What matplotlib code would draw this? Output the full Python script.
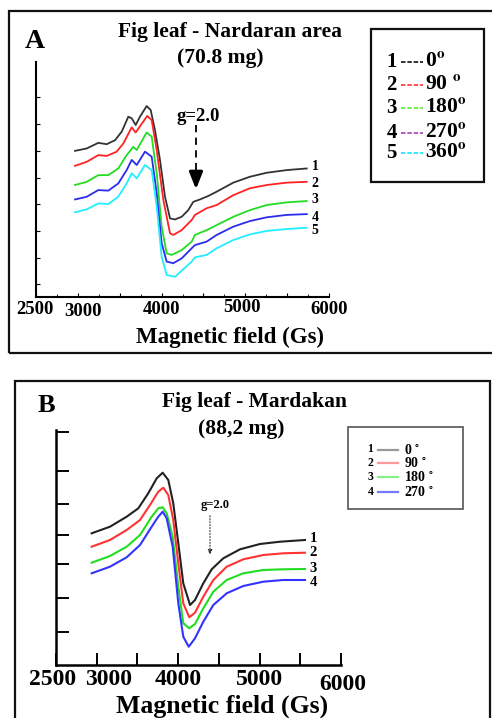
import matplotlib
matplotlib.use("Agg")
from matplotlib import pyplot as plt
from matplotlib.patches import Rectangle
from matplotlib.lines import Line2D
from matplotlib.transforms import ScaledTranslation

plt.rcParams['font.family'] = ['Liberation Serif', 'DejaVu Serif']
plt.rcParams['font.weight'] = 'bold'
plt.rcParams['mathtext.fontset'] = 'stix'

W, H = 492, 718

# ---------------- panel A : Fig leaf - Nardaran area ----------------
A_x1 = [2966, 3106, 3244, 3345, 3444, 3524, 3603, 3643, 3691, 3742, 3822, 3870, 3921, 3981,
        4041, 4101, 4160, 4240, 4319, 4379, 4459, 4558, 4658, 4857, 5056, 5256, 5495, 5734]
A_y1 = [5.00, 5.09, 5.30, 5.25, 5.40, 5.72, 6.28, 6.22, 5.97, 6.28, 6.68, 6.53, 5.78, 4.66,
        3.28, 2.47, 2.43, 2.53, 2.78, 3.09, 3.18, 3.31, 3.47, 3.81, 4.03, 4.18, 4.28, 4.34]
A_x2 = [2966, 3106, 3244, 3345, 3464, 3544, 3643, 3691, 3829, 3882, 3942, 4021, 4101, 4140,
        4240, 4360, 4399, 4539, 4658, 4857, 5056, 5256, 5495, 5734]
A_y2 = [4.44, 4.59, 4.84, 4.81, 4.97, 5.28, 5.88, 5.69, 6.31, 6.15, 5.03, 3.16, 1.91, 1.85,
        2.03, 2.41, 2.60, 2.85, 2.97, 3.34, 3.60, 3.72, 3.81, 3.84]
A_x3 = [2966, 3106, 3244, 3364, 3483, 3583, 3662, 3703, 3822, 3882, 3942, 4001, 4061, 4120,
        4240, 4360, 4399, 4539, 4658, 4857, 5056, 5256, 5495, 5734]
A_y3 = [3.72, 3.84, 4.09, 4.09, 4.34, 4.84, 5.15, 5.03, 5.69, 5.53, 4.16, 2.16, 1.16, 1.10,
        1.28, 1.60, 1.85, 2.03, 2.22, 2.53, 2.78, 2.97, 3.07, 3.12]
A_x4 = [2966, 3106, 3244, 3364, 3483, 3583, 3643, 3703, 3802, 3882, 3942, 4001, 4061, 4140,
        4240, 4360, 4399, 4539, 4658, 4857, 5056, 5256, 5495, 5734]
A_y4 = [3.18, 3.28, 3.53, 3.51, 3.78, 4.28, 4.66, 4.47, 4.97, 4.78, 3.41, 1.54, 0.85, 0.79,
        0.97, 1.35, 1.47, 1.60, 1.85, 2.16, 2.37, 2.51, 2.60, 2.63]
A_x5 = [2966, 3106, 3244, 3364, 3483, 3583, 3643, 3703, 3802, 3882, 3942, 4001, 4061, 4160,
        4240, 4360, 4399, 4539, 4658, 4857, 5056, 5256, 5495, 5734]
A_y5 = [2.70, 2.81, 3.03, 3.01, 3.28, 3.78, 4.16, 3.97, 4.47, 4.28, 2.91, 1.03, 0.35, 0.28,
        0.51, 0.85, 1.01, 1.10, 1.35, 1.66, 1.87, 2.00, 2.07, 2.12]
A_colors = ['#333333', '#ff2222', '#22dd22', '#2b2bee', '#22eeff']
A_nums = ['1', '2', '3', '4', '5']
A_labels = ['0', '90 ', '180', '270', '360']
A_leg_colors = ['#222222', '#ff4444', '#66ee44', '#b050c0', '#22e8ff']
A_num_y = [4.43, 3.79, 3.19, 2.52, 2.03]

# ---------------- panel B : Fig leaf - Mardakan ----------------
B_x1 = [2938, 3163, 3368, 3511, 3633, 3737, 3810, 3879, 3940, 4002, 4063, 4146, 4207, 4309,
        4412, 4554, 4760, 5005, 5251, 5558]
B_y1 = [13.17, 13.83, 14.83, 15.67, 17.17, 18.67, 19.23, 18.5, 16.17, 12.17, 8.17, 6.0, 6.5,
        8.17, 9.57, 10.67, 11.57, 12.1, 12.33, 12.5]
B_x2 = [2938, 3163, 3368, 3532, 3654, 3756, 3818, 3879, 3940, 4002, 4063, 4137, 4207, 4309,
        4432, 4596, 4800, 5046, 5291, 5558]
B_y2 = [11.83, 12.5, 13.5, 14.5, 16.0, 17.33, 17.73, 17.0, 14.5, 10.17, 6.17, 4.77, 5.23,
        6.83, 8.5, 9.83, 10.57, 11.0, 11.17, 11.23]
B_x3 = [2938, 3163, 3368, 3532, 3675, 3756, 3810, 3859, 3933, 4002, 4063, 4137, 4207, 4309,
        4432, 4596, 4800, 5046, 5291, 5558]
B_y3 = [10.23, 10.9, 11.83, 13.0, 14.83, 15.67, 15.77, 15.17, 12.83, 7.83, 4.17, 3.67, 4.1,
        5.67, 7.33, 8.5, 9.17, 9.5, 9.57, 9.6]
B_x4 = [2938, 3163, 3368, 3532, 3675, 3756, 3810, 3859, 3933, 4002, 4063, 4130, 4207, 4309,
        4432, 4596, 4800, 5046, 5291, 5558]
B_y4 = [9.17, 9.83, 10.77, 12.0, 13.83, 14.83, 15.33, 14.67, 11.83, 6.17, 2.83, 1.83, 2.67,
        4.33, 6.0, 7.17, 7.9, 8.33, 8.5, 8.5]
B_colors = ['#222222', '#ff3333', '#22dd22', '#3333ff']
B_nums = ['1', '2', '3', '4']
B_labels = ['0', '90', '180', '270']
B_leg_colors = ['#999999', '#ff9999', '#88ee88', '#7777ff']
B_num_y = [12.7, 11.3, 9.7, 8.2]
B_yticks = [3.3, 6.7, 10.1, 13.0, 16.1, 19.4, 23.3]

xticks = [2500, 3000, 3500, 4000, 4500, 5000, 5500, 6000]
xticklabels = ['2500', '3000', '', '4000', '', '5000', '', '6000']


def fx(px):
    return px / W


def fy(py):
    return 1 - py / H


def nudge(label, dx, dy):
    # shift a tick label by (dx, dy) pixels
    label.set_transform(label.get_transform() + ScaledTranslation(dx / 100, -dy / 100, fig.dpi_scale_trans))


fig = plt.figure(figsize=(W / 100, H / 100), dpi=100)

# panel frames
fig.add_artist(Rectangle((fx(9), fy(353)), fx(500) - fx(9), fy(11) - fy(353),
                         transform=fig.transFigure, fill=False, lw=1.6, ec='#111111'))
fig.add_artist(Rectangle((fx(15), fy(730)), fx(490) - fx(15), fy(381) - fy(730),
                         transform=fig.transFigure, fill=False, lw=1.6, ec='#111111'))

# ---------- A ----------
axA = fig.add_axes([fx(36), fy(297), fx(329) - fx(36), fy(62) - fy(297)])
for xs, ys, c in zip([A_x1, A_x2, A_x3, A_x4, A_x5], [A_y1, A_y2, A_y3, A_y4, A_y5], A_colors):
    axA.plot(xs, ys, color=c, lw=1.3)
axA.set_xlim(2500, 6000)
axA.set_ylim(-0.476, 8.33)
for s in ['top', 'right']:
    axA.spines[s].set_visible(False)
for s in ['left', 'bottom']:
    axA.spines[s].set_linewidth(1.5)
axA.set_xticks(xticks)
axA.set_xticklabels(xticklabels, fontsize=13.5, fontweight='bold')
axA.set_xticks([2750, 3250, 3750, 4250, 4750, 5250, 5750], minor=True)
axA.set_yticks(range(8))
axA.set_yticklabels([])
axA.tick_params(direction='in', length=3, width=0.8, pad=3)
axA.tick_params(which='minor', direction='in', length=2, width=0.6)
labs = axA.get_xticklabels()
nudge(labs[0], -1, 0)
nudge(labs[1], 5, 2)
nudge(labs[5], -3, -2)
for n, yv in zip(A_nums, A_num_y):
    axA.text(5833, yv, n, fontsize=10, ha='center', va='center', fontweight='bold')
axA.text(4440, 6.28, 'g=2.0', fontsize=13.5, ha='center', va='center', fontweight='bold')
axA.plot([4411, 4411], [5.97, 4.3], color='k', lw=1.3, ls=(0, (4, 3)))
axA.annotate('', xy=(4411, 3.46), xytext=(4411, 4.35),
             arrowprops=dict(arrowstyle='-|>,head_width=0.4,head_length=1.0', color='k', lw=2.2))

fig.text(fx(230), fy(32), 'Fig leaf - Nardaran area', fontsize=15.5, ha='center', va='center',
         fontweight='bold')
fig.text(fx(220), fy(58), '(70.8 mg)', fontsize=15.5, ha='center', va='center', fontweight='bold')
fig.text(fx(35), fy(42), 'A', fontsize=20, ha='center', va='center', fontweight='bold')
fig.text(fx(230), fy(337), 'Magnetic field (Gs)', fontsize=16.5, ha='center', va='center',
         fontweight='bold')

# legend A
fig.add_artist(Rectangle((fx(371), fy(182)), fx(484) - fx(371), fy(29) - fy(182),
                         transform=fig.transFigure, fill=False, lw=1.6, ec='#111111'))
for i, (n, lab, c) in enumerate(zip(A_nums, A_labels, A_leg_colors)):
    yy = [61.7, 85, 108.3, 133.3, 153.3][i]
    fig.text(fx(391.5), fy(yy), n, fontsize=15, ha='center', va='center', fontweight='bold')
    fig.add_artist(Line2D([fx(401), fx(423)], [fy(yy), fy(yy)], transform=fig.transFigure,
                          color=c, lw=1.3, ls=(0, (2.5, 1))))
    fig.text(fx(425), fy(yy), lab + r'$^{\mathbf{o}}$', fontsize=15.5, ha='left', va='center',
             fontweight='bold')

# ---------- B ----------
axB = fig.add_axes([fx(56), fy(665), fx(341) - fx(56), fy(430) - fy(665)])
for xs, ys, c in zip([B_x1, B_x2, B_x3, B_x4], [B_y1, B_y2, B_y3, B_y4], B_colors):
    axB.plot(xs, ys, color=c, lw=1.5)
axB.set_xlim(2500, 6000)
axB.set_ylim(0, 23.5)
for s in ['top', 'right']:
    axB.spines[s].set_visible(False)
for s in ['left', 'bottom']:
    axB.spines[s].set_linewidth(1.8)
axB.set_xticks(xticks)
axB.set_xticklabels(xticklabels, fontsize=17, fontweight='bold')
axB.set_yticks(B_yticks)
axB.set_yticklabels([])
axB.tick_params(direction='in', length=9, width=1.4, pad=3)
labs = axB.get_xticklabels()
nudge(labs[0], -3, 0)
nudge(labs[1], 12, 0)
nudge(labs[7], 2, 5)
for n, yv in zip(B_nums, B_num_y):
    axB.text(5656, yv, n, fontsize=10.5, ha='center', va='center', fontweight='bold')
axB.text(4453, 16.0, 'g=2.0', fontsize=9, ha='center', va='center', fontweight='bold')
axB.annotate('', xy=(4391, 10.7), xytext=(4391, 15.2),
             arrowprops=dict(arrowstyle='-|>,head_width=0.12,head_length=0.3', color='#333333',
                             lw=0.8, ls=':'))

fig.text(fx(255), fy(402), 'Fig leaf - Mardakan', fontsize=15.5, ha='center', va='center',
         fontweight='bold')
fig.text(fx(241), fy(429), '(88,2 mg)', fontsize=15.5, ha='center', va='center', fontweight='bold')
fig.text(fx(46), fy(405), 'B', fontsize=19, ha='center', va='center', fontweight='bold')
fig.text(fx(222), fy(706), 'Magnetic field (Gs)', fontsize=18.5, ha='center', va='center',
         fontweight='bold')

# legend B
fig.add_artist(Rectangle((fx(348), fy(509)), fx(463) - fx(348), fy(427) - fy(509),
                         transform=fig.transFigure, fill=False, lw=1.2, ec='#555555'))
for i, (n, lab, c) in enumerate(zip(B_nums, B_labels, B_leg_colors)):
    yy = [449.5, 463, 477.3, 492][i]
    fig.text(fx(370.5), fy(yy), n, fontsize=8.5, ha='center', va='center', fontweight='bold')
    fig.add_artist(Line2D([fx(378), fx(398)], [fy(yy), fy(yy)], transform=fig.transFigure,
                          color=c, lw=1.6))
    fig.text(fx(404), fy(yy), lab + r' $^{\circ}$', fontsize=10, ha='left', va='center',
             fontweight='bold')

fig.savefig('out.png', dpi=100)
